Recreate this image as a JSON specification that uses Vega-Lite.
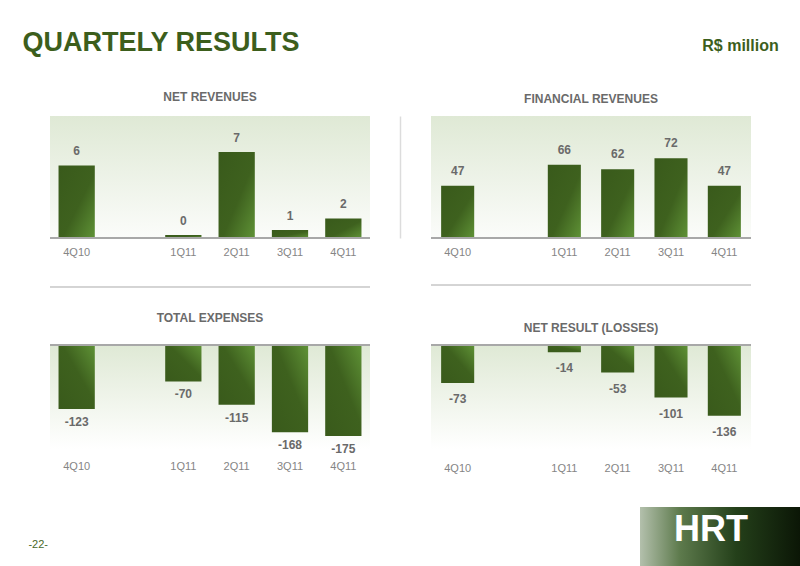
{
  "$schema": "https://vega.github.io/schema/vega-lite/v6.json",
  "background": "white",
  "padding": {"left": 22, "top": 29, "right": 0, "bottom": 0},
  "config": {
    "font": "Liberation Sans",
    "title": {"font": "Liberation Sans", "fontSize": 12, "fontWeight": "bold", "color": "#6a6a6a", "anchor": "middle"},
    "view": {"stroke": null}
  },
  "title": {"text": "QUARTELY RESULTS", "anchor": "start", "dx": -6, "offset": -19, "fontSize": 27, "fontWeight": "bold", "color": "#3c5e1c", "font": "Liberation Sans"},
  "spacing": 34,
  "vconcat": [
    {
      "title": {"text": "R$ million", "anchor": "end", "dx": 27, "offset": 37, "fontSize": 16, "fontWeight": "bold", "color": "#3c5e1c"},
      "columns": 2,
      "bounds": "flush",
      "spacing": {"row": 107, "column": 61},
      "concat": [
        {
          "width": 320, "height": 122,
          "title": {"text": "NET REVENUES", "offset": 12},
          "view": {"stroke": null, "fill": {"gradient": "linear", "x1": 0, "y1": 0, "x2": 0, "y2": 1, "stops": [{"offset": 0, "color": "#dfe9d5"}, {"offset": 1, "color": "#fbfcfa"}]}},
          "data": {"values": [
            {"quarter": "4Q10", "value": 5.95, "label": "6"},
            {"quarter": "1Q11", "value": 0.25, "label": "0"},
            {"quarter": "2Q11", "value": 7.05, "label": "7"},
            {"quarter": "3Q11", "value": 0.65, "label": "1"},
            {"quarter": "4Q11", "value": 1.6, "label": "2"}
          ]},
          "layer": [
            {"mark": {"type": "bar", "fill": {"gradient": "linear", "x1": 0, "y1": 0, "x2": 1, "y2": 1, "stops": [{"offset": 0, "color": "#395a1b"}, {"offset": 0.55, "color": "#3e611e"}, {"offset": 1, "color": "#5f9236"}]}},
             "encoding": {
              "x": {"field": "quarter", "type": "nominal", "scale": {"domain": ["4Q10", " ", "1Q11", "2Q11", "3Q11", "4Q11"], "paddingInner": 0.32, "paddingOuter": 0.16}, "axis": {"title": null, "domain": false, "ticks": false, "labelAngle": 0, "labelColor": "#858585", "labelFontSize": 11, "labelPadding": 8}},
              "y": {"field": "value", "type": "quantitative", "scale": {"domain": [0, 9.7]}, "axis": null}}},
            {"mark": {"type": "text", "baseline": "bottom", "dy": -7, "fontSize": 12, "fontWeight": "bold", "color": "#6a6a6a"},
             "encoding": {
              "x": {"field": "quarter", "type": "nominal", "axis": {"title": null, "domain": false, "ticks": false, "labelAngle": 0, "labelColor": "#858585", "labelFontSize": 11, "labelPadding": 8}},
              "y": {"field": "value", "type": "quantitative"},
              "text": {"field": "label"}}},
            {"mark": {"type": "rule", "color": "#a8a8a8", "strokeWidth": 1.5}, "encoding": {"y": {"datum": 0}}},
            {"mark": {"type": "rule", "color": "#d4d4d4", "strokeWidth": 1.5}, "encoding": {"y": {"datum": -4.0}}}
          ]
        },
        {
          "width": 320, "height": 122,
          "title": {"text": "FINANCIAL REVENUES", "offset": 10},
          "view": {"stroke": null, "fill": {"gradient": "linear", "x1": 0, "y1": 0, "x2": 0, "y2": 1, "stops": [{"offset": 0, "color": "#dfe9d5"}, {"offset": 1, "color": "#fbfcfa"}]}},
          "data": {"values": [
            {"quarter": "4Q10", "value": 47, "label": "47"},
            {"quarter": "1Q11", "value": 66, "label": "66"},
            {"quarter": "2Q11", "value": 62, "label": "62"},
            {"quarter": "3Q11", "value": 72, "label": "72"},
            {"quarter": "4Q11", "value": 47, "label": "47"}
          ]},
          "layer": [
            {"mark": {"type": "bar", "fill": {"gradient": "linear", "x1": 0, "y1": 0, "x2": 1, "y2": 1, "stops": [{"offset": 0, "color": "#395a1b"}, {"offset": 0.55, "color": "#3e611e"}, {"offset": 1, "color": "#5f9236"}]}},
             "encoding": {
              "x": {"field": "quarter", "type": "nominal", "scale": {"domain": ["4Q10", " ", "1Q11", "2Q11", "3Q11", "4Q11"], "paddingInner": 0.38, "paddingOuter": 0.19}, "axis": {"title": null, "domain": false, "ticks": false, "labelAngle": 0, "labelColor": "#858585", "labelFontSize": 11, "labelPadding": 8}},
              "y": {"field": "value", "type": "quantitative", "scale": {"domain": [0, 102]}, "axis": {"orient": "left", "offset": 31, "domainColor": "#dcdcdc", "domainWidth": 1.5, "labels": false, "ticks": false, "grid": false, "title": null}}}},
            {"mark": {"type": "text", "baseline": "bottom", "dy": -8, "fontSize": 12, "fontWeight": "bold", "color": "#6a6a6a"},
             "encoding": {
              "x": {"field": "quarter", "type": "nominal", "axis": {"title": null, "domain": false, "ticks": false, "labelAngle": 0, "labelColor": "#858585", "labelFontSize": 11, "labelPadding": 8}},
              "y": {"field": "value", "type": "quantitative"},
              "text": {"field": "label"}}},
            {"mark": {"type": "rule", "color": "#a8a8a8", "strokeWidth": 1.5}, "encoding": {"y": {"datum": 0}}},
            {"mark": {"type": "rule", "color": "#d4d4d4", "strokeWidth": 1.5}, "encoding": {"y": {"datum": -42.5}}}
          ]
        },
        {
          "width": 320, "height": 104,
          "title": {"text": "TOTAL EXPENSES", "offset": 19},
          "view": {"stroke": null, "fill": {"gradient": "linear", "x1": 0, "y1": 0, "x2": 0, "y2": 1, "stops": [{"offset": 0, "color": "#dfe9d5"}, {"offset": 1, "color": "#ffffff"}]}},
          "data": {"values": [
            {"quarter": "4Q10", "value": -123, "label": "-123"},
            {"quarter": "1Q11", "value": -70, "label": "-70"},
            {"quarter": "2Q11", "value": -115, "label": "-115"},
            {"quarter": "3Q11", "value": -168, "label": "-168"},
            {"quarter": "4Q11", "value": -175, "label": "-175"}
          ]},
          "layer": [
            {"mark": {"type": "bar", "fill": {"gradient": "linear", "x1": 0, "y1": 1, "x2": 1, "y2": 0, "stops": [{"offset": 0, "color": "#395a1b"}, {"offset": 0.55, "color": "#3e611e"}, {"offset": 1, "color": "#5f9236"}]}},
             "encoding": {
              "x": {"field": "quarter", "type": "nominal", "scale": {"domain": ["4Q10", " ", "1Q11", "2Q11", "3Q11", "4Q11"], "paddingInner": 0.32, "paddingOuter": 0.16}, "axis": {"title": null, "domain": false, "ticks": false, "labelAngle": 0, "labelColor": "#858585", "labelFontSize": 11, "labelPadding": 11}},
              "y": {"field": "value", "type": "quantitative", "scale": {"domain": [-191, 0]}, "axis": null}}},
            {"mark": {"type": "text", "baseline": "top", "dy": 8, "fontSize": 12, "fontWeight": "bold", "color": "#6a6a6a"},
             "encoding": {
              "x": {"field": "quarter", "type": "nominal", "axis": {"title": null, "domain": false, "ticks": false, "labelAngle": 0, "labelColor": "#858585", "labelFontSize": 11, "labelPadding": 11}},
              "y": {"field": "value", "type": "quantitative"},
              "text": {"field": "label"}}},
            {"mark": {"type": "rule", "color": "#a8a8a8", "strokeWidth": 1.5}, "encoding": {"y": {"datum": 0}}}
          ]
        },
        {
          "width": 320, "height": 104,
          "title": {"text": "NET RESULT (LOSSES)", "offset": 9},
          "view": {"stroke": null, "fill": {"gradient": "linear", "x1": 0, "y1": 0, "x2": 0, "y2": 1, "stops": [{"offset": 0, "color": "#dfe9d5"}, {"offset": 1, "color": "#ffffff"}]}},
          "data": {"values": [
            {"quarter": "4Q10", "value": -73, "label": "-73"},
            {"quarter": "1Q11", "value": -14, "label": "-14"},
            {"quarter": "2Q11", "value": -53, "label": "-53"},
            {"quarter": "3Q11", "value": -101, "label": "-101"},
            {"quarter": "4Q11", "value": -136, "label": "-136"}
          ]},
          "layer": [
            {"mark": {"type": "bar", "fill": {"gradient": "linear", "x1": 0, "y1": 1, "x2": 1, "y2": 0, "stops": [{"offset": 0, "color": "#395a1b"}, {"offset": 0.55, "color": "#3e611e"}, {"offset": 1, "color": "#5f9236"}]}},
             "encoding": {
              "x": {"field": "quarter", "type": "nominal", "scale": {"domain": ["4Q10", " ", "1Q11", "2Q11", "3Q11", "4Q11"], "paddingInner": 0.38, "paddingOuter": 0.19}, "axis": {"title": null, "domain": false, "ticks": false, "labelAngle": 0, "labelColor": "#858585", "labelFontSize": 11, "labelPadding": 13}},
              "y": {"field": "value", "type": "quantitative", "scale": {"domain": [-184, 0]}, "axis": null}}},
            {"mark": {"type": "text", "baseline": "top", "dy": 11, "fontSize": 12, "fontWeight": "bold", "color": "#6a6a6a"},
             "encoding": {
              "x": {"field": "quarter", "type": "nominal", "axis": {"title": null, "domain": false, "ticks": false, "labelAngle": 0, "labelColor": "#858585", "labelFontSize": 11, "labelPadding": 13}},
              "y": {"field": "value", "type": "quantitative"},
              "text": {"field": "label"}}},
            {"mark": {"type": "rule", "color": "#a8a8a8", "strokeWidth": 1.5}, "encoding": {"y": {"datum": 0}}}
          ]
        }
      ]
    },
    {
      "spacing": 568,
      "hconcat": [
        {
          "width": 22, "height": 60,
          "data": {"values": [{"page": "-22-"}]},
          "mark": {"type": "text", "align": "right", "dx": -13, "dy": 8, "fontSize": 11, "color": "#4a6a2a"},
          "encoding": {"text": {"field": "page"}}
        },
        {
          "width": 160, "height": 60,
          "view": {"stroke": null, "fill": {"gradient": "linear", "x1": 0, "y1": 0, "x2": 1, "y2": 0, "stops": [{"offset": 0, "color": "#b3c0ac"}, {"offset": 0.25, "color": "#5d7a4c"}, {"offset": 0.6, "color": "#24401a"}, {"offset": 1, "color": "#0b1606"}]}},
          "data": {"values": [{"logo": "HRT"}]},
          "mark": {"type": "text", "dx": -9, "dy": -7, "fontSize": 36, "fontWeight": "bold", "color": "white"},
          "encoding": {"text": {"field": "logo"}}
        }
      ]
    }
  ]
}
